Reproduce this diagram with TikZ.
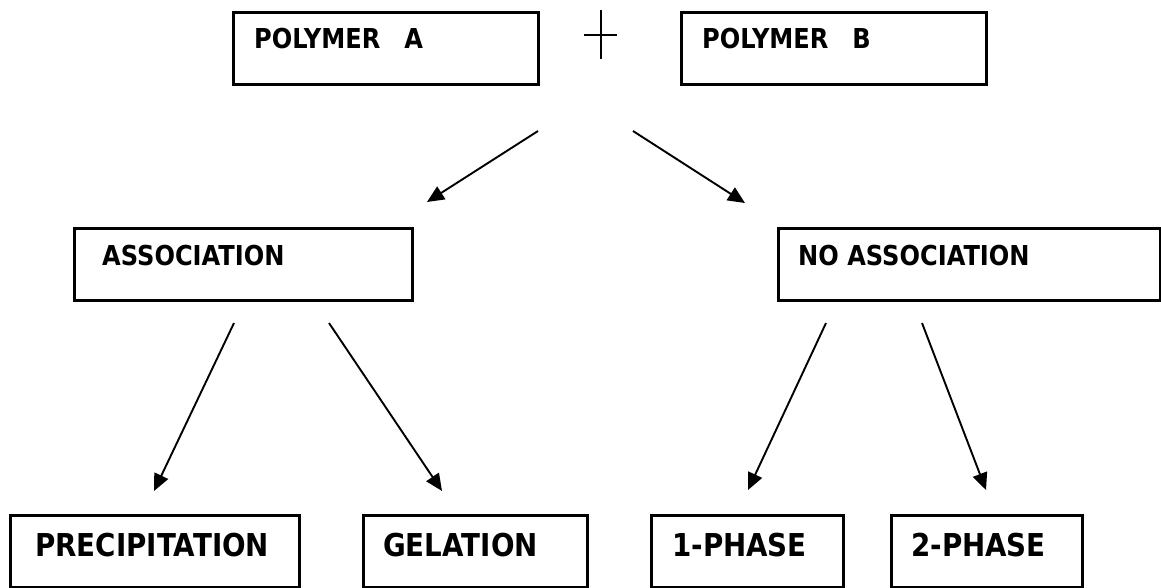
\documentclass[tikz,border=0pt]{standalone}
\usepackage{fontspec}
\setmainfont{DejaVu Sans}[FakeStretch=0.88]
\usetikzlibrary{arrows.meta,calc}
\begin{document}
\begin{tikzpicture}[x=1pt,y=-1pt,
  box/.style={draw=black,line width=3pt,inner sep=0pt,anchor=north west},
  lbl/.style={anchor=base west,inner sep=0pt,font=\fontsize{27.4}{30}\selectfont\bfseries},
  lblbig/.style={anchor=base west,inner sep=0pt,font=\fontsize{31.5}{34}\selectfont\bfseries},
  arr/.style={line width=1.9pt,-{Triangle[length=17pt,width=15pt]}}]
\useasboundingbox (0,0) rectangle (1161,587);
% boxes
\node[box,minimum width=305pt,minimum height=72pt] (pa) at (232,11) {};
\node[box,minimum width=305pt,minimum height=72pt] (pb) at (680,11) {};
\node[box,minimum width=338pt,minimum height=72pt] (as) at (73,227) {};
\node[box,minimum width=382pt,minimum height=72pt] (na) at (777,227) {};
\node[box,minimum width=289pt,minimum height=72pt] (pr) at (9,514) {};
\node[box,minimum width=224pt,minimum height=72pt] (ge) at (362,514) {};
\node[box,minimum width=192pt,minimum height=72pt] (p1) at (650,514) {};
\node[box,minimum width=191pt,minimum height=72pt] (p2) at (890,514) {};
% labels
\node[lbl] (tpa) at ($(pa.north west)+(22,37)$) {POLYMER\hspace{24pt}A};
\node[lbl] (tpb) at ($(pb.north west)+(22,37)$) {POLYMER\hspace{24pt}B};
\node[lbl] (tas) at ($(as.north west)+(29,38)$) {ASSOCIATION};
\node[lbl] (tna) at ($(na.north west)+(21,38)$) {NO ASSOCIATION};
\node[lblbig] (tpr) at ($(pr.north west)+(26,42)$) {PRECIPITATION};
\node[lblbig] (tge) at ($(ge.north west)+(21,42)$) {GELATION};
\node[lblbig] (tp1) at ($(p1.north west)+(22,42)$) {1-PHASE};
\node[lblbig] (tp2) at ($(p2.north west)+(21,42)$) {2-PHASE};
% plus sign
\coordinate (plt) at (601,10);
\coordinate (plb) at (601,59);
\coordinate (pll) at (584,35);
\coordinate (plr) at (617,35);
\draw[line width=1.5pt] (plt) -- (plb);
\draw[line width=1.5pt] (pll) -- (plr);
% arrow end points
\coordinate (s1) at (538,131); \coordinate (e1) at (427,202);
\coordinate (s2) at (633,131); \coordinate (e2) at (745,203);
\coordinate (s3) at (234,323); \coordinate (e3) at (154,491);
\coordinate (s4) at (329,323); \coordinate (e4) at (442,491);
\coordinate (s5) at (826,323); \coordinate (e5) at (748,490);
\coordinate (s6) at (922,323); \coordinate (e6) at (986,490);
\draw[arr] (s1) -- (e1);
\draw[arr] (s2) -- (e2);
\draw[arr] (s3) -- (e3);
\draw[arr] (s4) -- (e4);
\draw[arr] (s5) -- (e5);
\draw[arr] (s6) -- (e6);
\end{tikzpicture}
\end{document}
